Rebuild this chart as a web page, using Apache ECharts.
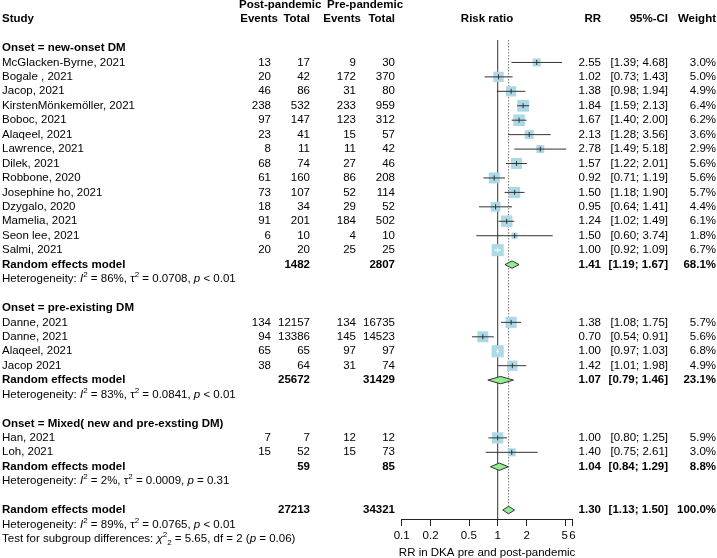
<!DOCTYPE html>
<html><head><meta charset="utf-8">
<script src="https://cdn.jsdelivr.net/npm/echarts@6/dist/echarts.min.js"></script>
<style>html,body{margin:0;padding:0;background:#fff}#c{width:717px;height:558px}</style>
</head><body><div id="c"></div>
<script>
// ---------------- DATA ----------------
const groupTitles = ["Onset = new-onset DM", "Onset = pre-existing DM", "Onset = Mixed( new and pre-exsting DM)"];

const studiesNew = ["McGlacken-Byrne, 2021","Bogale , 2021","Jacop, 2021","KirstenMönkemöller, 2021","Boboc, 2021","Alaqeel, 2021","Lawrence, 2021","Dilek, 2021","Robbone, 2020","Josephine ho, 2021","Dzygalo, 2020","Mamelia, 2021","Seon lee, 2021","Salmi, 2021"];
const postEventsNew = [13,20,46,238,97,23,8,68,61,73,18,91,6,20];
const postTotalNew  = [17,42,86,532,147,41,11,74,160,107,34,201,10,20];
const preEventsNew  = [9,172,31,233,123,15,11,27,86,52,29,184,4,25];
const preTotalNew   = [30,370,80,959,312,57,42,46,208,114,52,502,10,25];
const rrNew = [2.55,1.02,1.38,1.84,1.67,2.13,2.78,1.57,0.92,1.50,0.95,1.24,1.50,1.00];
const loNew = [1.39,0.73,0.98,1.59,1.40,1.28,1.49,1.22,0.71,1.18,0.64,1.02,0.60,0.92];
const hiNew = [4.68,1.43,1.94,2.13,2.00,3.56,5.18,2.01,1.19,1.90,1.41,1.49,3.74,1.09];
const weightNew = [3.0,5.0,4.9,6.4,6.2,3.6,2.9,5.6,5.6,5.7,4.4,6.1,1.8,6.7];

const studiesPre = ["Danne, 2021","Danne, 2021","Alaqeel, 2021","Jacop 2021"];
const postEventsPre = [134,94,65,38];
const postTotalPre  = [12157,13386,65,64];
const preEventsPre  = [134,145,97,31];
const preTotalPre   = [16735,14523,97,74];
const rrPre = [1.38,0.70,1.00,1.42];
const loPre = [1.08,0.54,0.97,1.01];
const hiPre = [1.75,0.91,1.03,1.98];
const weightPre = [5.7,5.6,6.8,4.9];

const studiesMix = ["Han, 2021","Loh, 2021"];
const postEventsMix = [7,15];
const postTotalMix  = [7,52];
const preEventsMix  = [12,15];
const preTotalMix   = [12,73];
const rrMix = [1.00,1.40];
const loMix = [0.80,0.75];
const hiMix = [1.25,2.61];
const weightMix = [5.9,3.0];

const subgroupRR = [1.41,1.07,1.04];
const subgroupLo = [1.19,0.79,0.84];
const subgroupHi = [1.67,1.46,1.29];
const subgroupWeight = [68.1,23.1,8.8];
const subgroupPostTotal = [1482,25672,59];
const subgroupPreTotal = [2807,31429,85];
const hetI2 = ["86%","83%","2%"];
const hetTau2 = ["0.0708","0.0841","0.0009"];
const hetP = ["< 0.01","< 0.01","= 0.31"];

const overallRR = 1.30, overallLo = 1.13, overallHi = 1.50, overallWeight = 100.0;
const overallPostTotal = 27213, overallPreTotal = 34321;
const overallI2 = "89%", overallTau2 = "0.0765", overallP = "< 0.01";
const testChi2 = "5.65", testDf = "2", testP = "0.06";

const xTicks = [0.1,0.2,0.5,1,2,5,6];
const xMin = 0.1, xMax = 6;
const axisName = "RR in DKA pre and post-pandemic";

// ---------------- LAYOUT ----------------
const FONT = 'Liberation Sans, Arial, Helvetica, sans-serif';
const FS = 11.5;
const ROW = 14.44, Y0 = 48, ROW_MIN = -3.3, ROW_MAX_TEXT = 35, AXIS_Y = 519;
const plotLeft = 401.7, plotRight = 572.4;
const gridTop = Y0 + ROW_MIN * ROW;
const plotRowMax = (AXIS_Y - Y0) / ROW;

const COL = {study:2, postEv:271, postTot:310, preEv:356, preTot:395, rr:601, ci:668, w:716};

const groups = [
  {studies:studiesNew, postEv:postEventsNew, postTot:postTotalNew, preEv:preEventsNew, preTot:preTotalNew, rr:rrNew, lo:loNew, hi:hiNew, w:weightNew},
  {studies:studiesPre, postEv:postEventsPre, postTot:postTotalPre, preEv:preEventsPre, preTot:preTotalPre, rr:rrPre, lo:loPre, hi:hiPre, w:weightPre},
  {studies:studiesMix, postEv:postEventsMix, postTot:postTotalMix, preEv:preEventsMix, preTot:preTotalMix, rr:rrMix, lo:loMix, hi:hiMix, w:weightMix}
];

const textItems = [];
function T(x, r, t, a, b) { textItems.push({x:x, r:r, t:t, a:a || 'left', b:!!b}); }
const f2 = v => v.toFixed(2);
const ci = (l, h) => '[' + l.toFixed(2) + '; ' + h.toFixed(2) + ']';
const wt = w => w.toFixed(1) + '%';
const het = (i2, tau2, p) => 'Heterogeneity: {it|I}{sup|2} = ' + i2 + ', τ{sup|2} = ' + tau2 + ', {it|p} ' + p;

// headers
T(239, -3, 'Post-pandemic', 'left', true);
T(327, -3, 'Pre-pandemic', 'left', true);
T(COL.study, -2, 'Study', 'left', true);
T(278, -2, 'Events', 'right', true);
T(310, -2, 'Total', 'right', true);
T(361, -2, 'Events', 'right', true);
T(395, -2, 'Total', 'right', true);
T((plotLeft + plotRight) / 2, -2, 'Risk ratio', 'center', true);
T(COL.rr, -2, 'RR', 'right', true);
T(COL.ci, -2, '95%-CI', 'right', true);
T(COL.w, -2, 'Weight', 'right', true);

const studyMarks = [];
const diamondMarks = [];
let row = 0;
groups.forEach((g, gi) => {
  T(COL.study, row, groupTitles[gi], 'left', true); row++;
  g.studies.forEach((s, i) => {
    T(COL.study, row, s);
    T(COL.postEv, row, String(g.postEv[i]), 'right');
    T(COL.postTot, row, String(g.postTot[i]), 'right');
    T(COL.preEv, row, String(g.preEv[i]), 'right');
    T(COL.preTot, row, String(g.preTot[i]), 'right');
    T(COL.rr, row, f2(g.rr[i]), 'right');
    T(COL.ci, row, ci(g.lo[i], g.hi[i]), 'right');
    T(COL.w, row, wt(g.w[i]), 'right');
    studyMarks.push([g.rr[i], row, g.lo[i], g.hi[i], g.w[i]]);
    row++;
  });
  T(COL.study, row, 'Random effects model', 'left', true);
  T(COL.postTot, row, String(subgroupPostTotal[gi]), 'right', true);
  T(COL.preTot, row, String(subgroupPreTotal[gi]), 'right', true);
  T(COL.rr, row, f2(subgroupRR[gi]), 'right', true);
  T(COL.ci, row, ci(subgroupLo[gi], subgroupHi[gi]), 'right', true);
  T(COL.w, row, wt(subgroupWeight[gi]), 'right', true);
  diamondMarks.push([subgroupRR[gi], row, subgroupLo[gi], subgroupHi[gi]]);
  row++;
  T(COL.study, row, het(hetI2[gi], hetTau2[gi], hetP[gi])); row++;
  row++;
});
const overallRow = row;
T(COL.study, row, 'Random effects model', 'left', true);
T(COL.postTot, row, String(overallPostTotal), 'right', true);
T(COL.preTot, row, String(overallPreTotal), 'right', true);
T(COL.rr, row, f2(overallRR), 'right', true);
T(COL.ci, row, ci(overallLo, overallHi), 'right', true);
T(COL.w, row, wt(overallWeight), 'right', true);
diamondMarks.push([overallRR, row, overallLo, overallHi]);
row++;
T(COL.study, row, het(overallI2, overallTau2, overallP)); row++;
T(COL.study, row, 'Test for subgroup differences: {it|χ}{sup|2}{sub|2} = ' + testChi2 + ', df = ' + testDf + ' ({it|p} = ' + testP + ')');

const DIA_H = 3.7;
const refLines = [
  [1, -0.55, plotRowMax, 0],
  [overallRR, -0.55, overallRow - DIA_H / ROW, 1]
];

const RICH = {
  it: {fontStyle:'italic', fontSize:FS, fontFamily:FONT, fill:'#000', lineHeight:16},
  sup: {fontSize:8, fontFamily:FONT, fill:'#000', verticalAlign:'top', lineHeight:8},
  sub: {fontSize:8, fontFamily:FONT, fill:'#000', verticalAlign:'bottom', lineHeight:8}
};

const chart = echarts.init(document.getElementById('c'), null, {renderer:'canvas'});
chart.setOption({
  animation: false,
  backgroundColor: '#fff',
  grid: [
    {left:0, top:gridTop, width:717, height:(ROW_MAX_TEXT - ROW_MIN) * ROW, containLabel:false, outerBoundsMode:'none'},
    {left:plotLeft, top:gridTop, width:plotRight - plotLeft, height:AXIS_Y - gridTop, containLabel:false, outerBoundsMode:'none'}
  ],
  xAxis: [
    {type:'value', gridIndex:0, min:0, max:717, show:false},
    {type:'log', logBase:10, gridIndex:1, min:xMin, max:xMax, position:'bottom',
     axisLine:{show:true, onZero:false, lineStyle:{color:'#222', width:1}},
     axisTick:{show:true, length:7, inside:false, customValues:xTicks, lineStyle:{color:'#222', width:1}},
     axisLabel:{show:true, customValues:xTicks, fontSize:FS, fontFamily:FONT, color:'#000', margin:11,
       formatter: v => String(+(+v).toPrecision(3))},
     splitLine:{show:false}, minorTick:{show:false},
     name: axisName, nameLocation:'middle', nameGap:27,
     nameTextStyle:{fontSize:FS, fontFamily:FONT, color:'#000'}}
  ],
  yAxis: [
    {type:'value', gridIndex:0, inverse:true, min:ROW_MIN, max:ROW_MAX_TEXT, show:false},
    {type:'value', gridIndex:1, inverse:true, min:ROW_MIN, max:plotRowMax, show:false}
  ],
  series: [
    {
      type:'custom', xAxisIndex:1, yAxisIndex:1, clip:false, z:1,
      data: refLines, encode:{x:0, y:1},
      renderItem: (params, api) => {
        const d = refLines[params.dataIndex];
        const a = api.coord([d[0], d[1]]), b = api.coord([d[0], d[2]]);
        return {type:'line', shape:{x1:a[0], y1:a[1], x2:b[0], y2:b[1]},
          style: d[3] ? {stroke:'#777', lineWidth:1, lineDash:[1.5,1.5]} : {stroke:'#333', lineWidth:1}};
      }
    },
    {
      type:'custom', xAxisIndex:1, yAxisIndex:1, clip:false, z:2,
      data: studyMarks, encode:{x:0, y:1},
      renderItem: (params, api) => {
        const d = studyMarks[params.dataIndex];
        const c = api.coord([d[0], d[1]]);
        const l = api.coord([d[2], d[1]]);
        const h = api.coord([d[3], d[1]]);
        const s = 4.65 * Math.sqrt(d[4]);
        const inside = (h[0] - l[0]) <= s;
        const col = inside ? '#fff' : '#333';
        return {type:'group', children:[
          {type:'rect', shape:{x:c[0]-s/2, y:c[1]-s/2, width:s, height:s}, style:{fill:'#ADD8E6'}},
          {type:'line', shape:{x1:l[0], y1:c[1], x2:h[0], y2:c[1]}, style:{stroke:col, lineWidth:1}},
          {type:'line', shape:{x1:c[0], y1:c[1]-2.5, x2:c[0], y2:c[1]+2.5}, style:{stroke:col, lineWidth:1}}
        ]};
      }
    },
    {
      type:'custom', xAxisIndex:1, yAxisIndex:1, clip:false, z:3,
      data: diamondMarks, encode:{x:0, y:1},
      renderItem: (params, api) => {
        const d = diamondMarks[params.dataIndex];
        const c = api.coord([d[0], d[1]]);
        const l = api.coord([d[2], d[1]]);
        const h = api.coord([d[3], d[1]]);
        return {type:'polygon', shape:{points:[[l[0],c[1]],[c[0],c[1]-DIA_H],[h[0],c[1]],[c[0],c[1]+DIA_H]]},
          style:{fill:'#90EE90', stroke:'#333', lineWidth:1}};
      }
    },
    {
      type:'custom', xAxisIndex:0, yAxisIndex:0, clip:false, z:4,
      data: textItems.map(t => [t.x, t.r]), encode:{x:0, y:1},
      renderItem: (params, api) => {
        const t = textItems[params.dataIndex];
        const p = api.coord([t.x, t.r]);
        return {type:'text', x:p[0], y:p[1], style:{
          text:t.t, textAlign:t.a, textVerticalAlign:'middle',
          fontFamily:FONT, fontSize:FS, fontWeight:t.b ? 'bold' : 'normal', fill:'#000',
          lineHeight:16, rich:RICH}};
      }
    }
  ]
});
</script>
</body></html>
